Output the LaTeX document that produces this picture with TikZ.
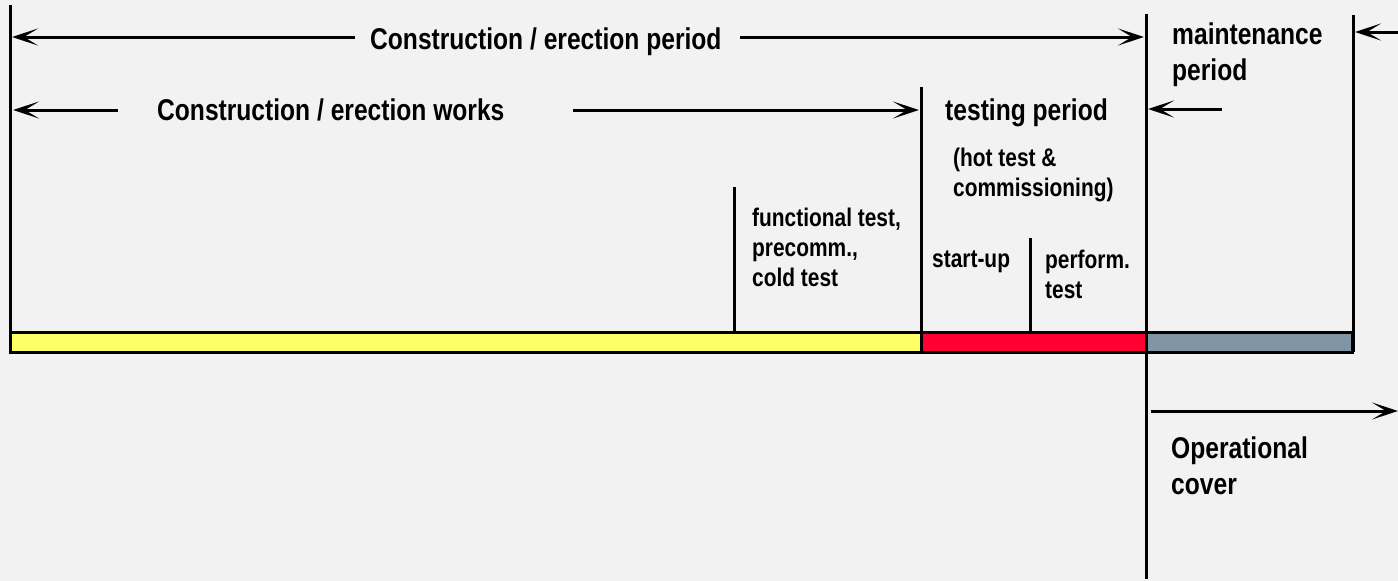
\documentclass[tikz,border=0pt]{standalone}
\usepackage{fontspec}
\setmainfont{Liberation Sans}[FakeStretch=0.82]
\usetikzlibrary{arrows.meta}
\definecolor{bgc}{HTML}{F2F2F2}
\definecolor{baryellow}{HTML}{FFFF66}
\definecolor{barred}{HTML}{FF0033}
\definecolor{bargray}{HTML}{7F95A5}
\tikzset{
  bigtxt/.style={anchor=base west, inner sep=0pt, font=\bfseries\fontsize{30}{36}\selectfont, align=left},
  smalltxt/.style={anchor=base west, inner sep=0pt, font=\bfseries\fontsize{25.5}{30}\selectfont, align=left},
  vline/.style={line width=3pt, black},
  arr/.style={line width=3pt, -{Stealth[length=26pt, width=17pt, inset=14pt]}},
  barseg/.style={draw=black, line width=3pt}
}
\begin{document}
\begin{tikzpicture}[x=1pt, y=-1pt]
\fill[bgc] (0,0) rectangle (1398,581);
\useasboundingbox (0,0) rectangle (1398,581);
% bar
\draw[barseg, fill=baryellow] (10,332) rectangle (921,352);
\draw[barseg, fill=barred] (921,332) rectangle (1146,352);
\draw[barseg, fill=bargray] (1146,332) rectangle (1352,352);
% vertical lines
\coordinate (v1t) at (10,5);    \coordinate (v1b) at (10,352);
\coordinate (v2t) at (1146,14); \coordinate (v2b) at (1146,579);
\coordinate (v3t) at (921,87);  \coordinate (v3b) at (921,352);
\coordinate (v4t) at (1353,15); \coordinate (v4b) at (1353,352);
\coordinate (v5t) at (734,187); \coordinate (v5b) at (734,332);
\coordinate (v6t) at (1030,238);\coordinate (v6b) at (1030,332);
\draw[vline] (v1t) -- (v1b);
\draw[vline] (v2t) -- (v2b);
\draw[vline] (v3t) -- (v3b);
\draw[vline] (v4t) -- (v4b);
\draw[vline] (v5t) -- (v5b);
\draw[vline] (v6t) -- (v6b);
% texts (anchor = baseline of the last line)
\node[bigtxt] (cep) at (370,49) {Construction / erection period};
\node[bigtxt] (cew) at (157,120) {Construction / erection works};
\node[bigtxt] (tp) at (945,120) {testing period};
\node[bigtxt] (mp) at (1172,80) {maintenance\\period};
\node[smalltxt] (hot) at (953,196) {(hot test \&\\commissioning)};
\node[smalltxt] (ft) at (752,286) {functional test,\\precomm.,\\cold test};
\node[smalltxt] (su) at (932,267) {start-up};
\node[smalltxt] (pt) at (1045,298) {perform.\\test};
\node[bigtxt] (oc) at (1171,494) {Operational\\cover};
% arrow coordinates
\coordinate (a1s) at (355,37);  \coordinate (a1e) at (12,37);
\coordinate (a2s) at (740,37);  \coordinate (a2e) at (1144,37);
\coordinate (a3s) at (118,110); \coordinate (a3e) at (13,110);
\coordinate (a4s) at (573,110); \coordinate (a4e) at (919,110);
\coordinate (a5s) at (1222,109);\coordinate (a5e) at (1148,109);
\coordinate (a6s) at (1398,32); \coordinate (a6e) at (1355,32);
\coordinate (a7s) at (1151,411);\coordinate (a7e) at (1398,411);
\draw[arr] (a1s) -- (a1e);
\draw[arr] (a2s) -- (a2e);
\draw[arr] (a3s) -- (a3e);
\draw[arr] (a4s) -- (a4e);
\draw[arr] (a5s) -- (a5e);
\draw[arr] (a6s) -- (a6e);
\draw[arr] (a7s) -- (a7e);
\end{tikzpicture}
\end{document}
